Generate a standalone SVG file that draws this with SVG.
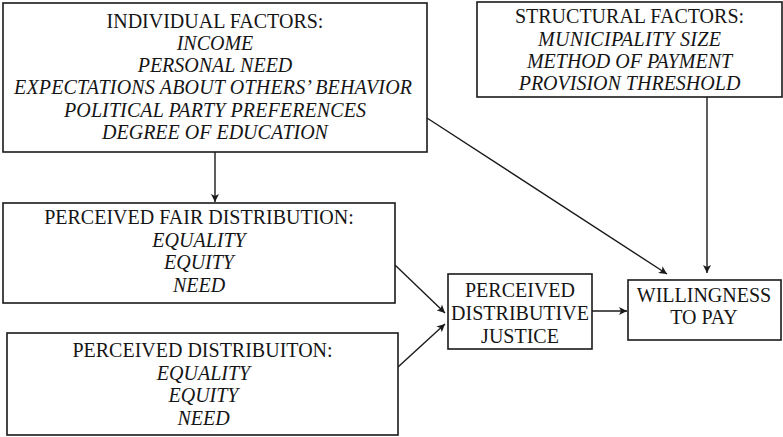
<svg xmlns="http://www.w3.org/2000/svg" width="783" height="437" viewBox="0 0 783 437">
  <style>
    .box { fill: #ffffff; stroke: #1a1a1a; stroke-width: 1.6; }
    text { font-family: 'Liberation Serif', 'Times New Roman', serif; font-size: 20px; fill: #151515; text-anchor: middle; }
    .item { font-style: italic; }
    .link { fill: none; stroke: #1a1a1a; stroke-width: 1.4; marker-end: url(#arrow); }
  </style>
  <defs>
    <marker id="arrow" viewBox="0 0 10 10" refX="10" refY="5" markerWidth="9" markerHeight="8" markerUnits="userSpaceOnUse" orient="auto">
      <path d="M0,0 L10,5 L0,10 L2.5,5 z" fill="#1a1a1a"/>
    </marker>
  </defs>

  <rect width="783" height="437" fill="#ffffff"/>

  <!-- connectors -->
  <g id="connectors">
    <line class="link" x1="215" y1="152" x2="215" y2="202"/>
    <line class="link" x1="427" y1="118" x2="667" y2="274"/>
    <line class="link" x1="707" y1="97" x2="707" y2="273"/>
    <line class="link" x1="395" y1="265" x2="445" y2="313"/>
    <line class="link" x1="398" y1="367" x2="445" y2="324"/>
    <line class="link" x1="592" y1="311" x2="627" y2="311"/>
  </g>

  <g id="individual-factors">
    <rect class="box" x="3" y="3" width="424" height="149"/>
    <text class="head" x="215" y="27.5">INDIVIDUAL FACTORS:</text>
    <text class="item" x="215" y="49.8">INCOME</text>
    <text class="item" x="215" y="72.1">PERSONAL NEED</text>
    <text class="item" x="213" y="94.4" textLength="398" lengthAdjust="spacing">EXPECTATIONS ABOUT OTHERS’ BEHAVIOR</text>
    <text class="item" x="215" y="116.7" textLength="302" lengthAdjust="spacing">POLITICAL PARTY PREFERENCES</text>
    <text class="item" x="215" y="139">DEGREE OF EDUCATION</text>
  </g>

  <g id="structural-factors">
    <rect class="box" x="477" y="2" width="305" height="95"/>
    <text class="head" x="629.5" y="23">STRUCTURAL FACTORS:</text>
    <text class="item" x="629.5" y="45.5" textLength="183" lengthAdjust="spacing">MUNICIPALITY SIZE</text>
    <text class="item" x="629.5" y="68">METHOD OF PAYMENT</text>
    <text class="item" x="629.5" y="90">PROVISION THRESHOLD</text>
  </g>

  <g id="perceived-fair-distribution">
    <rect class="box" x="3" y="203" width="392" height="100"/>
    <text class="head" x="199" y="224">PERCEIVED FAIR DISTRIBUTION:</text>
    <text class="item" x="199" y="246.5">EQUALITY</text>
    <text class="item" x="199" y="269">EQUITY</text>
    <text class="item" x="199" y="291.5">NEED</text>
  </g>

  <g id="perceived-distribution">
    <rect class="box" x="7" y="333" width="391" height="102"/>
    <text class="head" x="202.5" y="357">PERCEIVED DISTRIBUITON:</text>
    <text class="item" x="203.5" y="379.5">EQUALITY</text>
    <text class="item" x="203.5" y="402">EQUITY</text>
    <text class="item" x="203.5" y="424.5">NEED</text>
  </g>

  <g id="perceived-distributive-justice">
    <rect class="box" x="448" y="274" width="144" height="75"/>
    <text class="head" x="520" y="297">PERCEIVED</text>
    <text class="head" x="520" y="320">DISTRIBUTIVE</text>
    <text class="head" x="520" y="343">JUSTICE</text>
  </g>

  <g id="willingness-to-pay">
    <rect class="box" x="628" y="280" width="153" height="60"/>
    <text class="head" x="704" y="302">WILLINGNESS</text>
    <text class="head" x="704" y="324">TO PAY</text>
  </g>
</svg>
